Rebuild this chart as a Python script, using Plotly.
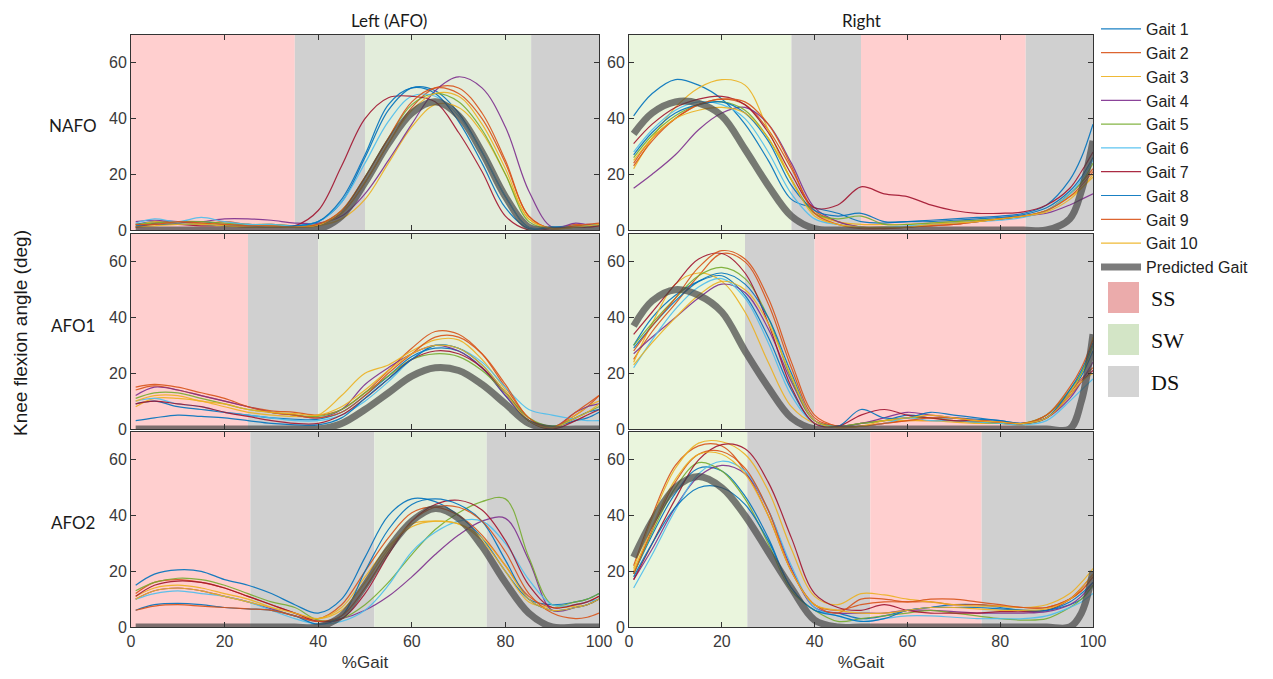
import plotly.graph_objects as go

W, H = 1273, 679

# ---------------- data ----------------
X = [1, 5, 10, 15, 20, 25, 30, 35, 40, 45, 50, 55, 60, 65, 70, 75, 80, 85, 90, 95, 97.5, 100]

GAIT_NAMES = ["Gait 1", "Gait 2", "Gait 3", "Gait 4", "Gait 5",
              "Gait 6", "Gait 7", "Gait 8", "Gait 9", "Gait 10"]
GAIT_COLORS = ["#0072BD", "#D95319", "#EDB120", "#7E2F8E", "#77AC30",
               "#4DBEEE", "#A2142F", "#0072BD", "#D95319", "#EDB120"]

ROW_LABELS = ["NAFO", "AFO1", "AFO2"]
COL_TITLES = ["Left (AFO)", "Right"]

# gait phases per panel: (start %, end %, phase)
PHASES_NAFO_L = [(0, 35, "SS"), (35, 50, "DS"), (50, 85.5, "SW"), (85.5, 100, "DS")]
PHASES_NAFO_R = [(0, 35, "SW"), (35, 50, "DS"), (50, 85.5, "SS"), (85.5, 100, "DS")]
PHASES_AFO1_L = [(0, 25, "SS"), (25, 40, "DS"), (40, 85.5, "SW"), (85.5, 100, "DS")]
PHASES_AFO1_R = [(0, 25, "SW"), (25, 40, "DS"), (40, 85.5, "SS"), (85.5, 100, "DS")]
PHASES_AFO2_L = [(0, 25.5, "SS"), (25.5, 52, "DS"), (52, 76, "SW"), (76, 100, "DS")]
PHASES_AFO2_R = [(0, 25.5, "SW"), (25.5, 52, "DS"), (52, 76, "SS"), (76, 100, "DS")]

PHASE_LABELS = ["SS", "SW", "DS"]

NAFO_L = [
    [2, 3, 2.5, 3, 2, 2, 1.5, 1.5, 3, 10, 26, 43, 51, 50, 42, 28, 12, 1, 1, 1.5, 1.5, 2],
    [1, 2.5, 3, 2, 3, 2, 2, 1.5, 2, 6, 17, 31, 44, 51, 51, 42, 25, 5, 0.5, 2, 1.5, 1.5],
    [1.5, 3, 2, 2.5, 2, 1.5, 1.5, 1, 1.5, 4, 11, 24, 37, 45, 44, 35, 20, 4, 0.5, 1, 1.5, 2],
    [3, 3.5, 3, 3, 4, 4, 3.5, 2.5, 2.5, 5, 13, 25, 38, 50, 55, 51, 37, 14, 1, 2.5, 2, 2],
    [2, 2.5, 3, 3, 2.5, 2, 2, 1.5, 2, 7, 19, 33, 45, 49, 46, 36, 20, 3, 0.5, 1.5, 1.5, 1.5],
    [2.5, 4, 3, 4.5, 3, 2, 2, 1.5, 3, 10, 24, 39, 48, 48, 41, 28, 12, 1, 1, 1, 1.5, 2],
    [1, 2, 2, 1.5, 1.5, 1, 1, 1.5, 7, 23, 40, 47.5, 48, 46, 35, 21, 5, 0, 0.5, 1, 1, 1.5],
    [1.5, 2, 2, 2, 1.5, 1.5, 1, 1.5, 3, 11, 27, 45, 51, 49, 39, 24, 8, 0.5, 1, 1, 1.5, 2],
    [2, 2, 3, 2.5, 2, 1.5, 1.5, 1, 2, 7, 19, 33, 46, 51, 49, 40, 24, 5, 0.5, 1.5, 2, 2.5],
    [1, 1.5, 2, 2, 1.5, 1, 1, 1, 1.5, 6, 17, 31, 43, 49, 48, 38, 22, 4, 0.5, 1, 1.5, 2],
]
NAFO_L_PRED = [0, 0, 0, 0, 0, 0, 0, 0, 0.3, 5, 17, 31, 42, 46, 41, 28, 12, 1, 0, 0, 0, 0]

NAFO_R = [
    [41, 49, 54, 52, 47, 38, 25, 11, 8, 6, 3, 2.5, 3, 3.5, 4, 4.5, 5, 6, 9, 18, 26, 38],
    [24, 33, 40, 45, 47, 45, 36, 22, 7, 3, 1, 0.5, 1, 1.5, 2, 3, 4, 5, 7, 13, 17, 22],
    [22, 33, 44, 51, 54, 52, 36, 18, 6, 3, 2, 2, 2, 2.5, 3, 3.5, 4, 5, 7, 12, 15, 20],
    [15, 20, 27, 36, 42, 44, 38, 24, 8, 3, 1, 1, 1, 2, 2.5, 3, 4, 5, 6, 9, 11, 13],
    [26, 34, 41, 45, 46, 43, 33, 18, 6, 4, 5, 2, 2, 2.5, 3, 3.5, 4, 5, 7, 13, 17, 24],
    [28, 36, 43, 46, 45, 40, 28, 13, 4, 2, 1, 1, 1.5, 2, 2.5, 3, 3.5, 4.5, 7, 13, 18, 25],
    [31, 38, 44, 47, 48, 45, 35, 20, 8, 9, 15.5, 13, 12, 9, 7, 6, 6, 6.5, 9, 15, 21, 28],
    [27, 35, 42, 45, 46, 42, 32, 16, 7, 5, 6, 3, 3, 3, 3.5, 4, 4.5, 5.5, 8, 14, 19, 26],
    [23, 32, 40, 45, 47, 46, 38, 23, 6, 2, 0.5, 0.5, 1, 1.5, 2, 3, 4, 5, 7, 12, 16, 21],
    [25, 33, 40, 43, 44, 42, 33, 18, 5, 2, 1, 1, 1, 2, 2.5, 3, 4, 5, 6.5, 11, 15, 19],
]
NAFO_R_PRED = [34.5, 42, 46, 45.5, 41, 29, 16, 5, 0.5, 0, 0, 0, 0, 0, 0, 0, 0, 0, 0, 4, 14, 32]

AFO1_L = [
    [9, 10, 8, 7, 6, 5, 4, 3.5, 3.5, 6, 12, 19, 26, 29, 28, 22, 12, 3, 1, 3, 4, 6],
    [14, 15.5, 14, 12, 10, 8, 6.5, 6, 5, 7, 13, 21, 29, 35, 34, 27, 15, 4, 0.5, 5, 8, 12],
    [8, 11, 11, 10, 8, 6, 5, 4.5, 5, 12, 20, 23, 28, 32, 32, 25, 14, 3, 0, 5, 8, 10],
    [12, 15, 14, 12, 10, 8, 6, 5, 4, 7, 16, 22, 27, 30, 28, 22, 12, 3, 0.5, 6, 8, 9],
    [11, 13, 13, 11, 9, 7, 6, 5, 4.5, 7, 13, 19, 25, 27, 26, 21, 13, 4, 1, 4, 6, 8],
    [10, 11, 9, 8, 6, 5, 4, 3, 3, 5, 10, 17, 25, 30, 29, 24, 15, 7, 5, 3.5, 3, 3],
    [9, 10, 9, 8, 6, 4.5, 3, 2, 2, 5, 11, 18, 25, 28, 27, 22, 13, 3, 0, 3, 5, 7],
    [3, 4, 5, 4.5, 4, 3, 2, 1.5, 1.5, 4, 11, 18, 25, 30, 29, 23, 13, 3, 0.5, 4, 6, 7],
    [15, 16, 15, 13, 11, 8, 6, 5, 4, 6, 12, 20, 27, 33, 33, 27, 16, 4, 0.5, 6, 9, 12],
    [10, 12, 12, 10, 9, 7, 6, 5.5, 5, 8, 14, 21, 27, 30, 29, 23, 13, 3, 0.5, 4, 6, 9],
]
AFO1_L_PRED = [0, 0, 0, 0, 0, 0, 0, 0, 0, 2, 7, 13, 19, 22, 21, 16, 9, 2, 0, 0, 0, 0]

AFO1_R = [
    [30, 40, 48, 53, 55, 48, 33, 14, 2, 1, 2, 3, 5, 4, 4, 3.5, 3, 2, 4, 13, 19, 28],
    [25, 35, 45, 55, 63, 60, 45, 22, 4, 1, 1, 2, 3, 3, 3, 2.5, 2, 2, 5, 13, 18, 22],
    [24, 38, 52, 56, 53, 42, 24, 8, 2, 1, 2, 3, 3, 3, 2.5, 2, 2, 1.5, 4, 13, 20, 33],
    [27, 33, 40, 47, 52, 49, 36, 17, 3, 1, 2, 4, 6, 5, 4, 3, 2.5, 2, 4, 11, 17, 24],
    [30, 38, 47, 55, 58, 54, 40, 18, 3, 1, 2, 3, 4, 4, 3, 2.5, 2, 2, 5, 14, 20, 30],
    [22, 32, 43, 51, 54, 47, 31, 12, 2, 1, 1, 2, 4, 3, 3, 2.5, 2, 1.5, 3, 10, 14, 18],
    [34, 42, 52, 61, 63, 56, 38, 15, 2, 1, 5, 7, 5, 4, 3, 3, 2.5, 2, 4, 12, 17, 21],
    [29, 37, 46, 53, 56, 52, 40, 20, 3, 1, 7, 4, 4, 6, 5, 4, 3, 2, 4, 14, 21, 31],
    [28, 37, 47, 58, 64, 61, 47, 24, 5, 1, 1, 2, 3, 4, 4, 3, 2.5, 2, 5, 15, 22, 32],
    [23, 31, 40, 48, 53, 50, 38, 19, 3, 0.5, 1, 3, 4, 5, 4, 3, 2.5, 2, 4, 12, 17, 20],
]
AFO1_R_PRED = [37, 46, 50, 48, 42, 28, 15, 4, 0, 0, 0, 0, 0, 0, 0, 0, 0, 0, 0, 0, 10, 34]

AFO2_L = [
    [15, 19, 20.5, 20, 17, 15, 12, 8, 5, 10, 25, 40, 46, 45, 40, 32, 20, 10, 8, 9, 10, 12],
    [12, 16, 17, 16, 14, 11, 8, 5, 3, 8, 20, 32, 41, 43, 40, 33, 22, 11, 7, 8, 9, 11],
    [11, 14, 15, 14, 12, 10, 7, 4, 3, 7, 18, 29, 36, 38, 37, 31, 20, 9, 7, 7.5, 8, 10],
    [10, 13, 14, 13, 11, 9, 6.5, 4, 2, 3, 6, 11, 18, 26, 33, 38, 39, 24, 6, 7, 8, 10],
    [13, 16, 17.5, 17, 15, 12, 9, 7, 2.5, 3, 8, 16, 26, 35, 41, 45, 46, 25, 8, 9, 10, 12],
    [10, 12, 13, 12, 11, 9, 6, 3, 1, 2, 6, 15, 27, 34, 38, 38, 30, 17, 8, 8, 9, 10],
    [11, 15, 16.5, 16, 14, 11, 8, 5, 2, 3, 12, 26, 38, 44, 45.5, 42, 31, 15, 7, 8, 9, 11],
    [6, 8, 8.5, 8, 7, 6.5, 6, 4, 1, 4, 20, 35, 44, 46, 44, 38, 24, 10, 6, 7, 8, 10],
    [6, 7.5, 8, 7.5, 7, 6.5, 6, 4, 2, 4, 14, 27, 38, 43, 43, 38, 27, 12, 5, 3, 3.5, 5],
    [10, 13, 14, 13, 11, 9, 7, 5, 3, 6, 16, 28, 37, 38, 37, 32, 22, 10, 6, 7, 8, 10],
]
AFO2_L_PRED = [0, 0, 0, 0, 0, 0, 0, 0, 0, 4, 15, 28, 38, 42.5, 39, 29, 16, 5, 0, 0, 0, 0]

AFO2_R = [
    [19, 33, 48, 57, 56, 47, 32, 14, 6, 5, 3, 4, 6, 7, 8, 8, 7, 6, 6, 8, 10, 15],
    [22, 40, 58, 65, 65, 56, 40, 20, 8, 6, 8, 9, 9, 9, 8, 8, 7.5, 7, 7, 10, 13, 18],
    [21, 39, 57, 66, 66.5, 62, 49, 28, 11, 8, 12, 11.5, 10, 9, 8, 7.5, 7.5, 7, 8, 12, 16, 21],
    [17, 28, 43, 54, 58, 55, 42, 21, 7, 5, 5, 5, 6, 6, 5.5, 5, 5, 5, 5.5, 8, 11, 16],
    [19, 34, 50, 59, 56, 46, 30, 13, 6, 2, 3, 4, 5, 6, 5, 4, 3, 2.5, 3, 7, 10, 15],
    [14, 26, 42, 55, 59.5, 56, 42, 22, 7, 4, 2, 3, 4, 4, 3.5, 3, 3, 3, 4, 7, 9, 12],
    [17, 30, 46, 60, 65.5, 64, 52, 32, 12, 7, 6, 8, 6, 5, 5, 5, 5.5, 5.5, 6, 10, 14, 19],
    [18, 30, 43, 50, 50, 44, 31, 14, 6, 4, 2, 3, 6, 7, 7, 7, 6.5, 6, 6, 9, 12, 16],
    [19, 35, 52, 62, 63, 57, 42, 20, 8, 5, 10, 10, 9, 10, 10, 9, 8, 7, 7, 10, 13, 18],
    [20, 36, 53, 62, 62, 55, 40, 20, 8, 6, 5, 5, 6, 7, 7, 6.5, 6, 6, 6.5, 10, 14, 19],
]
AFO2_R_PRED = [25, 38, 50, 54, 50, 40, 27, 14, 2.5, 0, 0, 0, 0, 0, 0, 0, 0, 0, 0, 0, 5, 20]

PANELS = [
    (NAFO_L, NAFO_L_PRED, PHASES_NAFO_L),
    (NAFO_R, NAFO_R_PRED, PHASES_NAFO_R),
    (AFO1_L, AFO1_L_PRED, PHASES_AFO1_L),
    (AFO1_R, AFO1_R_PRED, PHASES_AFO1_R),
    (AFO2_L, AFO2_L_PRED, PHASES_AFO2_L),
    (AFO2_R, AFO2_R_PRED, PHASES_AFO2_R),
]

# ---------------- styling ----------------
BG_COLORS_LEFT = {"SS": "#FFCFCF", "DS": "#D0D0D0", "SW": "#E3EDDB"}
BG_COLORS_RIGHT = {"SS": "#FFCFCF", "DS": "#D0D0D0", "SW": "#EAF5DD"}
LEGEND_BOX_COLORS = {"SS": "#EBABAB", "SW": "#D3E5C6", "DS": "#D4D4D4"}

COL_PX = [(131, 599), (629, 1093)]
ROW_PX = [(35, 230), (234, 429), (432, 627)]

SANS = "Liberation Sans, Arial, sans-serif"
TICK_FONT = dict(family=SANS, size=16, color="#3a3a3a")
LABEL_FONT = dict(family="Lato, Open Sans, sans-serif", size=17, color="#1a1a1a")

fig = go.Figure()
layout = {}
shapes = []

for i, (gaits, pred, phases) in enumerate(PANELS):
    r, c = divmod(i, 2)
    n = i + 1
    xa = "x" if n == 1 else f"x{n}"
    ya = "y" if n == 1 else f"y{n}"
    for g, (vals, name, col) in enumerate(zip(gaits, GAIT_NAMES, GAIT_COLORS)):
        fig.add_trace(go.Scatter(
            x=X, y=vals, mode="lines", name=name, legendgroup=name,
            showlegend=(i == 0), line=dict(color=col, width=1.2, shape="spline"),
            opacity=0.9, xaxis=xa, yaxis=ya, hoverinfo="skip"))
    fig.add_trace(go.Scatter(
        x=X, y=pred, mode="lines", name="Predicted Gait", legendgroup="pred",
        showlegend=(i == 0), line=dict(color="rgba(68,68,68,0.7)", width=7, shape="spline"),
        xaxis=xa, yaxis=ya, hoverinfo="skip"))

    bgc = BG_COLORS_LEFT if c == 0 else BG_COLORS_RIGHT
    for (s, e, ph) in phases:
        shapes.append(dict(type="rect", xref=xa, yref=f"{ya} domain", x0=s, x1=e, y0=0, y1=1,
                           fillcolor=bgc[ph], line=dict(width=0), layer="below"))

    x0p, x1p = COL_PX[c]
    y0p, y1p = ROW_PX[r]
    key = "" if n == 1 else str(n)
    layout[f"xaxis{key}"] = dict(
        domain=[x0p / W, x1p / W], anchor=ya, range=[0, 100], automargin=False,
        tickvals=[0, 20, 40, 60, 80, 100], ticks="inside", ticklen=5, tickcolor="#333",
        showticklabels=(r == 2), tickfont=TICK_FONT, showgrid=False, zeroline=False,
        showline=True, linecolor="#333", linewidth=1, mirror="ticks",
        title=dict(text="%Gait" if r == 2 else "", font=dict(family=SANS, size=17, color="#333"), standoff=6),
    )
    layout[f"yaxis{key}"] = dict(
        domain=[1 - y1p / H, 1 - y0p / H], anchor=xa, range=[0, 70], automargin=False,
        tickvals=[0, 20, 40, 60], ticks="inside", ticklen=5, tickcolor="#333",
        tickfont=TICK_FONT, showgrid=False, zeroline=False,
        showline=True, linecolor="#333", linewidth=1, mirror="ticks",
    )

annotations = []
# column titles
for c, t in enumerate(COL_TITLES):
    cx = (389 if c == 0 else 861) / W
    annotations.append(dict(text=t, x=cx, y=1 - 20 / H, xref="paper", yref="paper",
                            showarrow=False, font=LABEL_FONT, xanchor="center", yanchor="middle"))
# row labels
for r, t in enumerate(ROW_LABELS):
    cy = [125, 325, 522][r]
    annotations.append(dict(text=t, x=73 / W, y=1 - cy / H, xref="paper", yref="paper",
                            showarrow=False, font=LABEL_FONT, xanchor="center", yanchor="middle"))
annotations.append(dict(text="Knee flexion angle (deg)", x=20 / W, y=1 - 333 / H, xref="paper",
                        yref="paper", showarrow=False, textangle=-90,
                        font=dict(family=SANS, size=19, color="#1a1a1a"),
                        xanchor="center", yanchor="middle"))

# phase colour key under the legend
for k, ph in enumerate(PHASE_LABELS):
    top = 282 + k * 42
    shapes.append(dict(type="rect", xref="paper", yref="paper",
                       x0=1108 / W, x1=1139 / W, y0=1 - (top + 31) / H, y1=1 - top / H,
                       fillcolor=LEGEND_BOX_COLORS[ph], line=dict(width=0)))
    annotations.append(dict(text=ph, x=1149 / W, y=1 - (top + 16) / H, xref="paper", yref="paper",
                            showarrow=False, xanchor="left", yanchor="middle",
                            font=dict(family="Liberation Serif, Times New Roman, serif", size=22, color="#111")))

fig.update_layout(
    width=W, height=H, margin=dict(l=0, r=0, t=0, b=0, autoexpand=False),
    paper_bgcolor="white", plot_bgcolor="white",
    shapes=shapes, annotations=annotations,
    legend=dict(x=1096 / W, y=1 - 12 / H, xanchor="left", yanchor="top",
                font=dict(family=SANS, size=16, color="#222"),
                bgcolor="rgba(0,0,0,0)", tracegroupgap=0, itemwidth=40),
    showlegend=True,
    **layout,
)

fig.write_html("out.html", post_script="document.body.style.margin='0';document.body.style.overflow='hidden';")
